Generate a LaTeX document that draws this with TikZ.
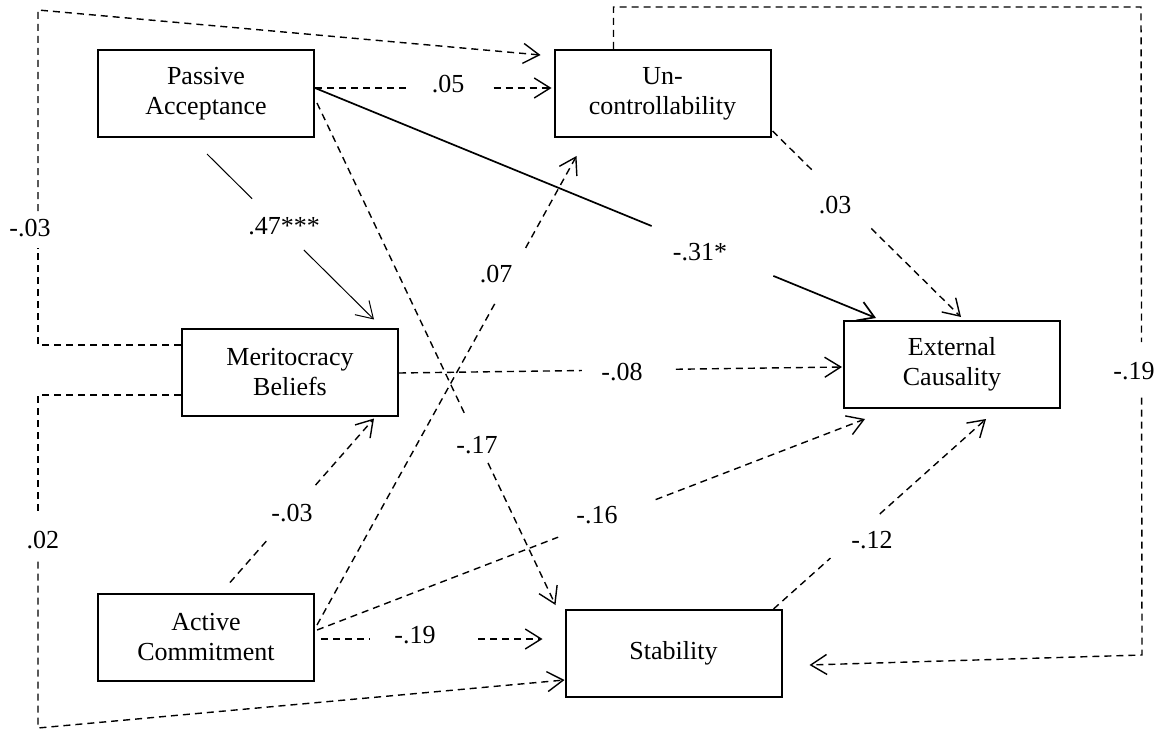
\documentclass[tikz,border=0pt]{standalone}
\usepackage{fontspec}
\setmainfont{Liberation Serif}
\usetikzlibrary{arrows.meta,calc}
\begin{document}
\begin{tikzpicture}[x=1pt,y=-1pt,
  box/.style={draw,line width=2pt,minimum width=216pt,minimum height=87pt,inner sep=0pt,align=center,font=\fontsize{26}{30}\selectfont},
  lbl/.style={inner sep=0pt,font=\fontsize{26}{30}\selectfont},
  dl/.style={line width=1.4pt,dash pattern=on 7pt off 5pt},
  sl/.style={line width=1.7pt},
  tl/.style={line width=1pt},
  >={Straight Barb[length=16pt,width=20pt]}]
\useasboundingbox (0,0) rectangle (1159,730);
% boxes
\node[box] (pa) at (206,93.5) {Passive\\Acceptance};
\node[box] (uc) at (662.5,93.5) {Un-\\controllability};
\node[box] (mb) at (290,372) {Meritocracy\\Beliefs};
\node[box] (ec) at (952,364.5) {External\\Causality};
\node[box] (ac) at (206,637) {Active\\Commitment};
\node[box] (st) at (673.5,653.5) {Stability};
% A: .05
\coordinate (a1) at ($(pa.east)+(0,-5.5)$);
\coordinate (a2) at ($(uc.west)+(-2,-5.5)$);
\draw[dl,->] (a1) -- ($(a1)!0.39!(a2)$) ($(a1)!0.755!(a2)$) -- (a2);
\node[lbl] (l05) at (448,84) {.05};
% B: -.31*
\coordinate (b1) at ($(pa.east)+(0,-5.5)$);
\coordinate (b2) at ($(ec.north west)+(33,-2)$);
\draw[sl,->] (b1) -- ($(b1)!0.60!(b2)$) ($(b1)!0.817!(b2)$) -- (b2);
\node[lbl] (l31) at (700,252) {-.31*};
% C: -.17
\coordinate (c1) at ($(pa.east)+(2,9.5)$);
\coordinate (c2) at ($(st.north west)+(-9,-4)$);
\draw[dl,->] (c1) -- ($(c1)!0.6175!(c2)$) ($(c1)!0.717!(c2)$) -- (c2);
\node[lbl] (l17) at (477,445) {-.17};
% D: .07
\coordinate (d1) at ($(ac.east)+(2,-12)$);
\coordinate (d2) at ($(uc.south west)+(23,18)$);
\draw[dl,->] (d1) -- ($(d1)!0.685!(d2)$) ($(d1)!0.804!(d2)$) -- (d2);
\node[lbl] (l07) at (496,274) {.07};
% E: -.03 (Active -> Meritocracy)
\coordinate (e1) at ($(ac.north)+(24,-10)$);
\coordinate (e2) at ($(mb.south east)+(-25,2)$);
\draw[dl,->] (e1) -- ($(e1)!0.26!(e2)$) ($(e1)!0.594!(e2)$) -- (e2);
\node[lbl] (l03b) at (292,513) {-.03};
% F: -.08
\coordinate (f1) at ($(mb.east)+(0,1)$);
\coordinate (f2) at ($(ec.west)+(-1,2.5)$);
\draw[dl,->] (f1) -- ($(f1)!0.413!(f2)$) ($(f1)!0.625!(f2)$) -- (f2);
\node[lbl] (l08) at (622,372) {-.08};
% G: .03
\coordinate (g1) at ($(uc.south east)+(1,-7)$);
\coordinate (g2) at ($(ec.north)+(9,-3)$);
\draw[dl,->] (g1) -- ($(g1)!0.225!(g2)$) ($(g1)!0.524!(g2)$) -- (g2);
\node[lbl] (l03c) at (835,205) {.03};
% H: -.16
\coordinate (h1) at ($(ac.east)+(2,-7)$);
\coordinate (h2) at ($(ec.south west)+(22,10)$);
\draw[dl,->] (h1) -- ($(h1)!0.44!(h2)$) ($(h1)!0.618!(h2)$) -- (h2);
\node[lbl] (l16) at (597,515) {-.16};
% I: -.12
\coordinate (i1) at ($(st.north east)+(-9,0)$);
\coordinate (i2) at ($(ec.south)+(34,10)$);
\draw[dl,->] (i1) -- ($(i1)!0.268!(i2)$) ($(i1)!0.50!(i2)$) -- (i2);
\node[lbl] (l12) at (872,540) {-.12};
% J: -.19 (Active -> Stability)
\coordinate (j1) at ($(ac.east)+(6,2)$);
\coordinate (j2) at ($(st.west)+(-22,-14.5)$);
\draw[dl,->] (j1) -- ($(j1)!0.22!(j2)$) ($(j1)!0.709!(j2)$) -- (j2);
\node[lbl] (l19a) at (415,635) {-.19};
% K: .02 (bottom-left loop)
\coordinate (k1) at ($(mb.west)+(0,23)$);
\coordinate (kc1) at (38,395);
\coordinate (kc2) at (38,728);
\coordinate (k2) at ($(st.west)+(0,26.5)$);
\draw[dl] (k1) -- (kc1) -- ($(kc1)!0.35!(kc2)$);
\draw[dl,->] ($(kc1)!0.50!(kc2)$) -- (kc2) -- (k2);
\node[lbl] (l02) at (43,540) {.02};
% N: -.03 (top-left loop)
\coordinate (n1) at ($(mb.west)+(0,-27)$);
\coordinate (nc1) at (38,345);
\coordinate (nc2) at (38,10);
\coordinate (n2) at ($(uc.north west)+(-13,6)$);
\draw[dl] (n1) -- (nc1) -- ($(nc1)!0.29!(nc2)$);
\draw[dl,->] ($(nc1)!0.40!(nc2)$) -- (nc2) -- (n2);
\node[lbl] (l03a) at (30,228) {-.03};
% L: -.19 (right loop)
\coordinate (o1) at ($(uc.north)+(-49,0)$);
\coordinate (oc1) at (613.5,7);
\coordinate (oc2) at (1141,7);
\coordinate (oc3) at (1142,655);
\coordinate (o2) at ($(st.east)+(27,11.5)$);
\draw[dl] (o1) -- (oc1) -- (oc2) -- ($(oc2)!0.517!(oc3)$);
\draw[dl,->] ($(oc2)!0.603!(oc3)$) -- (oc3) -- (o2);
\node[lbl] (l19b) at (1134,371) {-.19};
% M: .47***
\coordinate (m1) at ($(pa.south)+(1,16)$);
\coordinate (m2) at ($(mb.north east)+(-25,-8)$);
\draw[tl,->] (m1) -- ($(m1)!0.27!(m2)$) ($(m1)!0.58!(m2)$) -- (m2);
\node[lbl] (l47) at (284,226) {.47***};
\end{tikzpicture}
\end{document}
